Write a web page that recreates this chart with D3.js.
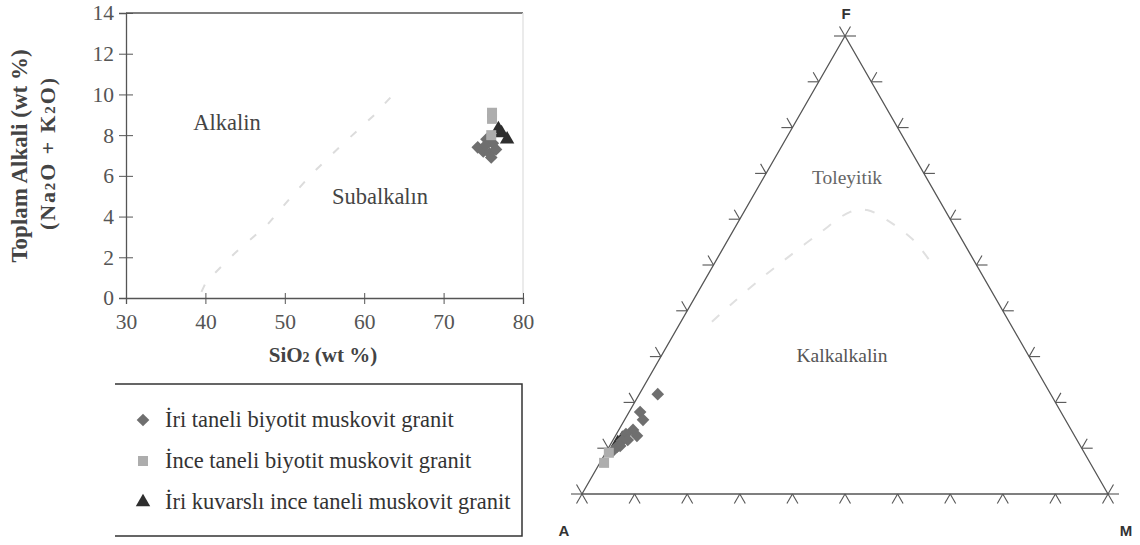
<!DOCTYPE html>
<html>
<head>
<meta charset="utf-8">
<script src="https://cdn.jsdelivr.net/npm/d3@7"></script>
<style>
  body { margin: 0; background: #fff; }
</style>
</head>
<body>
<svg id="chart" width="1140" height="545"></svg>
<script>
// --- data ---
const xTicks = [30, 40, 50, 60, 70, 80];
const yTicks = [0, 2, 4, 6, 8, 10, 12, 14];

// TAS diagram, [SiO2, Na2O+K2O]
const tasDiamonds = [[74.3, 7.4], [75.0, 7.2], [75.4, 7.8], [75.8, 7.1], [76.0, 6.9], [76.2, 7.6], [76.6, 7.3], [75.3, 7.5]];
const tasSquares = [[76.1, 9.1], [76.1, 8.8], [76.0, 8.0]];
const tasTriangles = [[77.3, 8.1], [78.0, 7.8], [76.9, 8.3]];
const tasBoundary = [[39.5, 0.3], [40.1, 0.8], [43.7, 2.2], [47.8, 3.6], [51.1, 5.1], [53.4, 6.1], [57.4, 7.6], [61.3, 9.0], [64.6, 10.4]];

// AFM diagram, [F, M] fractions (A = 1 - F - M)
const afmDiamonds = [[0.218, 0.035], [0.179, 0.021], [0.162, 0.035], [0.140, 0.027], [0.131, 0.018],
  [0.116, 0.018], [0.103, 0.015], [0.118, 0.028], [0.127, 0.041], [0.105, 0.020], [0.095, 0.012]];
const afmSquares = [[0.068, 0.008], [0.090, 0.006]];
const afmTriangles = [[0.112, 0.012], [0.121, 0.016]];
const afmBoundary = [[0.376, 0.059], [0.417, 0.078], [0.472, 0.106], [0.515, 0.132], [0.570, 0.167],
  [0.616, 0.202], [0.620, 0.232], [0.598, 0.281], [0.555, 0.352], [0.507, 0.409]];
const afmTicks = d3.range(0, 11).map(d => d / 10);

const legendLabels = ["İri taneli biyotit muskovit granit", "İnce taneli biyotit muskovit granit", "İri kuvarslı ince taneli muskovit granit"];

const serif = 'Liberation Serif', sans = 'Liberation Sans';
const svg = d3.select('#chart');
const diamondPath = d3.symbol().type(d3.symbolSquare).size(80)();
const squarePath = d3.symbol().type(d3.symbolSquare).size(100)();
const trianglePath = d3.symbol().type(d3.symbolTriangle).size(90)();
const colDiamond = '#6f6f6f', colSquare = '#adadad', colTriangle = '#2e2e2e';

// ---------- TAS ----------
const x = d3.scaleLinear().domain([30, 80]).range([126, 523]);
const y = d3.scaleLinear().domain([0, 14]).range([298, 13]);

// frame top / right
svg.append('line').attr('x1', x(30)).attr('x2', x(80)).attr('y1', y(14)).attr('y2', y(14))
  .attr('stroke', '#555').attr('stroke-width', 1.3);
svg.append('line').attr('x1', x(80)).attr('x2', x(80)).attr('y1', y(14)).attr('y2', y(0))
  .attr('stroke', '#e4e4e4').attr('stroke-width', 1.5);

const yAxis = svg.append('g').attr('transform', `translate(${x(30)},0)`)
  .call(d3.axisLeft(y).tickValues(yTicks).tickSizeOuter(0).tickSize(7).tickPadding(5));
yAxis.selectAll('.tick line').attr('x2', -7).attr('x1', 7);
const xAxis = svg.append('g').attr('transform', `translate(0,${y(0)})`)
  .call(d3.axisBottom(x).tickValues(xTicks).tickSizeOuter(0).tickSize(6).tickPadding(10));
xAxis.selectAll('.tick line').attr('y1', -5).attr('y2', 6);
[yAxis, xAxis].forEach(a => {
  a.select('.domain').attr('stroke', '#555').attr('stroke-width', 1.3);
  a.selectAll('.tick line').attr('stroke', '#555');
  a.selectAll('text').style('font-family', serif).style('font-size', '21.5px').attr('fill', '#555');
});

svg.append('path').datum(tasBoundary)
  .attr('d', d3.line().x(d => x(d[0])).y(d => y(d[1])))
  .attr('fill', 'none').attr('stroke', '#dcdcdc').attr('stroke-width', 2).attr('stroke-dasharray', '8,16');

function label(g, tx, ty, txt, size, col) {
  return g.append('text').attr('x', tx).attr('y', ty).attr('text-anchor', 'middle')
    .style('font-family', serif).style('font-size', size + 'px').attr('fill', col).text(txt);
}
label(svg, 227, 130, 'Alkalin', 22.5, '#444');
label(svg, 380, 204, 'Subalkalın', 22.5, '#444');

const xt = svg.append('text').attr('x', 323).attr('y', 362).attr('text-anchor', 'middle')
  .style('font-family', serif).style('font-size', '21px').attr('font-weight', 'bold').attr('fill', '#444');
xt.append('tspan').text('SiO');
xt.append('tspan').style('font-size', '14px').text('2');
xt.append('tspan').text(' (wt %)');

svg.append('text').attr('transform', 'translate(27,156) rotate(-90)').attr('text-anchor', 'middle')
  .style('font-family', serif).style('font-size', '23px').attr('font-weight', 'bold').attr('fill', '#444')
  .text('Toplam Alkali (wt %)');
const yt2 = svg.append('text').attr('transform', 'translate(55,154) rotate(-90)').attr('text-anchor', 'middle')
  .attr('textLength', 152).attr('lengthAdjust', 'spacing')
  .style('font-family', serif).style('font-size', '22px').attr('font-weight', 'bold').attr('fill', '#444');
yt2.append('tspan').text('(Na');
yt2.append('tspan').style('font-size', '15px').text('2');
yt2.append('tspan').text('O + K');
yt2.append('tspan').style('font-size', '15px').text('2');
yt2.append('tspan').text('O)');

function drawMarks(g, data, px, py, path, col, rot) {
  g.selectAll(null).data(data).enter().append('path')
    .attr('d', path)
    .attr('transform', d => `translate(${px(d)},${py(d)})` + (rot ? ' rotate(45)' : ''))
    .attr('fill', col);
}
const tasG = svg.append('g');
drawMarks(tasG, tasDiamonds, d => x(d[0]), d => y(d[1]), diamondPath, colDiamond, true);
drawMarks(tasG, tasTriangles, d => x(d[0]), d => y(d[1]), trianglePath, colTriangle, false);
drawMarks(tasG, tasSquares, d => x(d[0]), d => y(d[1]), squarePath, colSquare, false);

// ---------- legend ----------
const lg = svg.append('g');
lg.append('path').attr('d', 'M115,384 H522 V536 H115')
  .attr('fill', 'none').attr('stroke', '#333').attr('stroke-width', 1.5);
const legendRows = [[diamondPath, colDiamond, true], [squarePath, colSquare, false], [trianglePath, colTriangle, false]];
const ly = d3.scalePoint().domain(legendLabels).range([420, 502]);
legendLabels.forEach((lab, i) => {
  const r = legendRows[i];
  lg.append('path').attr('d', r[0]).attr('fill', r[1])
    .attr('transform', `translate(143,${ly(lab)})` + (r[2] ? ' rotate(45)' : ''));
  lg.append('text').attr('x', 165).attr('y', ly(lab) + 7)
    .style('font-family', serif).style('font-size', '22.5px').attr('fill', '#333').text(lab);
});

// ---------- AFM ternary ----------
const tx = d3.scaleLinear().domain([0, 1]).range([582, 1108]);
const ty = d3.scaleLinear().domain([0, 1]).range([494, 36]);
const px = d => tx(d[1] + d[0] / 2), py = d => ty(d[0]);
const vA = [0, 0], vF = [1, 0], vM = [0, 1];

const tg = svg.append('g');
tg.append('path').attr('d', `M${px(vA)},${py(vA)}L${px(vF)},${py(vF)}L${px(vM)},${py(vM)}Z`)
  .attr('fill', 'none').attr('stroke', '#555').attr('stroke-width', 1.3);

const L = 11, c = 0.5 * L, s = 0.866 * L;
const tickSegs = [];
afmTicks.forEach(t => {
  // bottom A->M
  let p = [tx(t), ty(0)];
  tickSegs.push([p, [p[0] - c, p[1] + s]], [p, [p[0] + c, p[1] + s]]);
  // left A->F
  p = [px([t, 0]), py([t, 0])];
  tickSegs.push([p, [p[0] - L, p[1]]], [p, [p[0] - c, p[1] - s]]);
  // right M->F
  p = [px([t, 1 - t]), py([t, 1 - t])];
  tickSegs.push([p, [p[0] + L, p[1]]], [p, [p[0] + c, p[1] - s]]);
});
tg.selectAll(null).data(tickSegs).enter().append('line')
  .attr('x1', d => d[0][0]).attr('y1', d => d[0][1]).attr('x2', d => d[1][0]).attr('y2', d => d[1][1])
  .attr('stroke', '#555').attr('stroke-width', 1.1);

tg.append('path').datum(afmBoundary)
  .attr('d', d3.line().curve(d3.curveCatmullRom).x(px).y(py))
  .attr('fill', 'none').attr('stroke', '#e0e0e0').attr('stroke-width', 2).attr('stroke-dasharray', '10,14');

label(tg, 847, 184, 'Toleyitik', 19.5, '#666');
label(tg, 842, 362, 'Kalkalkalin', 19.5, '#555');

[['F', 846, 19], ['A', 564, 536], ['M', 1126, 536]].forEach(v => {
  tg.append('text').attr('x', v[1]).attr('y', v[2]).attr('text-anchor', 'middle')
    .style('font-family', sans).attr('font-weight', 'bold').style('font-size', '15px')
    .attr('fill', '#333').text(v[0]);
});

drawMarks(tg, afmTriangles, px, py, trianglePath, colTriangle, false);
drawMarks(tg, afmDiamonds, px, py, diamondPath, colDiamond, true);
drawMarks(tg, afmSquares, px, py, squarePath, colSquare, false);
</script>
</body>
</html>
